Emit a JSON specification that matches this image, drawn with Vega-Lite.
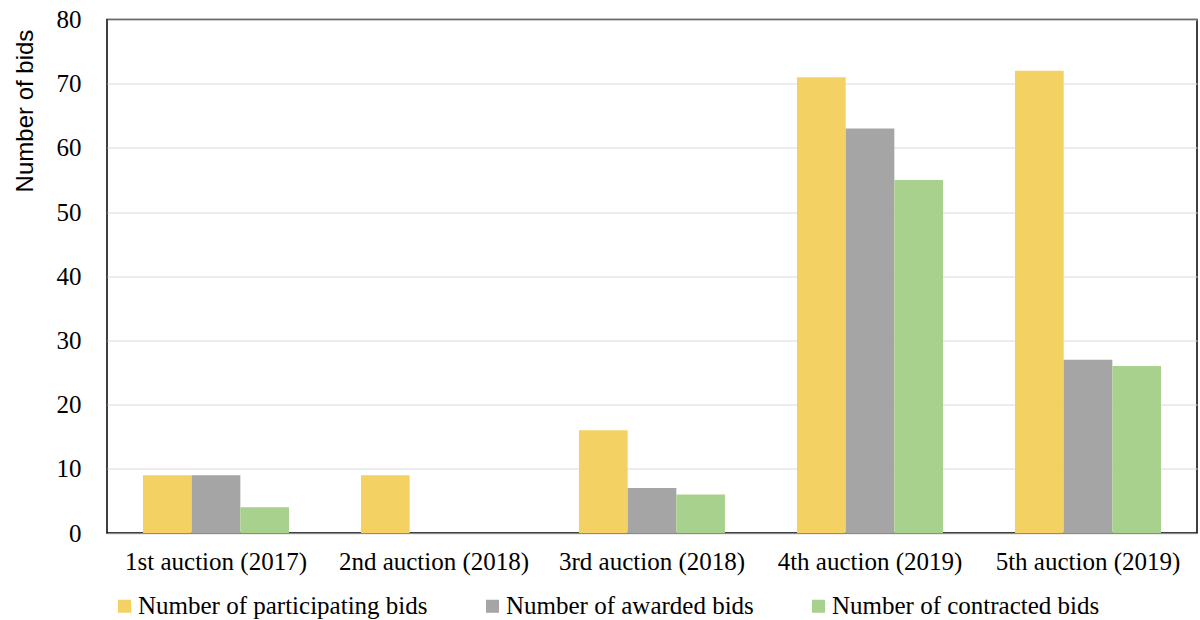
{
  "$schema": "https://vega.github.io/schema/vega-lite/v6.json",
  "width": 1090,
  "height": 513.5,
  "autosize": {"type": "none"},
  "padding": {"left": 107, "top": 19.5, "right": 3, "bottom": 87},
  "background": "white",
  "config": {
    "font": "Liberation Serif",
    "view": {"stroke": "#000000", "strokeWidth": 1.5},
    "axis": {"labelFont": "Liberation Serif", "labelColor": "#000000", "ticks": false},
    "legend": {"labelFont": "Liberation Serif"}
  },
  "data": {
    "values": [
      {"auction": "1st auction (2017)", "series": "Number of participating bids", "bids": 9},
      {"auction": "1st auction (2017)", "series": "Number of awarded bids", "bids": 9},
      {"auction": "1st auction (2017)", "series": "Number of contracted bids", "bids": 4},
      {"auction": "2nd auction (2018)", "series": "Number of participating bids", "bids": 9},
      {"auction": "2nd auction (2018)", "series": "Number of awarded bids", "bids": 0},
      {"auction": "2nd auction (2018)", "series": "Number of contracted bids", "bids": 0},
      {"auction": "3rd auction (2018)", "series": "Number of participating bids", "bids": 16},
      {"auction": "3rd auction (2018)", "series": "Number of awarded bids", "bids": 7},
      {"auction": "3rd auction (2018)", "series": "Number of contracted bids", "bids": 6},
      {"auction": "4th auction (2019)", "series": "Number of participating bids", "bids": 71},
      {"auction": "4th auction (2019)", "series": "Number of awarded bids", "bids": 63},
      {"auction": "4th auction (2019)", "series": "Number of contracted bids", "bids": 55},
      {"auction": "5th auction (2019)", "series": "Number of participating bids", "bids": 72},
      {"auction": "5th auction (2019)", "series": "Number of awarded bids", "bids": 27},
      {"auction": "5th auction (2019)", "series": "Number of contracted bids", "bids": 26}
    ]
  },
  "mark": {"type": "bar"},
  "encoding": {
    "x": {
      "field": "auction",
      "type": "nominal",
      "sort": null,
      "scale": {"paddingInner": 0.33, "paddingOuter": 0.165},
      "axis": {
        "title": null,
        "labelAngle": 0,
        "labelFont": "Liberation Serif",
        "labelFontSize": 25,
        "labelLimit": 400,
        "labelPadding": 16,
        "domain": false,
        "grid": false
      }
    },
    "xOffset": {
      "field": "series",
      "type": "nominal",
      "sort": ["Number of participating bids", "Number of awarded bids", "Number of contracted bids"],
      "scale": {"paddingInner": 0, "paddingOuter": 0}
    },
    "y": {
      "field": "bids",
      "type": "quantitative",
      "scale": {"domain": [0, 80], "nice": false},
      "axis": {
        "title": "Number of bids",
        "titleFont": "Liberation Sans",
        "titleFontWeight": "normal",
        "titleFontSize": 24,
        "titleColor": "#000000",
        "titleAngle": -90,
        "titleX": -82,
        "titleY": 91,
        "titleAlign": "center",
        "titleBaseline": "middle",
        "values": [0, 10, 20, 30, 40, 50, 60, 70, 80],
        "labelFont": "Liberation Serif",
        "labelFontSize": 25,
        "labelPadding": 26,
        "domain": false,
        "grid": true,
        "gridColor": "#D9D9D9",
        "gridWidth": 1
      }
    },
    "color": {
      "field": "series",
      "type": "nominal",
      "sort": ["Number of participating bids", "Number of awarded bids", "Number of contracted bids"],
      "scale": {
        "domain": ["Number of participating bids", "Number of awarded bids", "Number of contracted bids"],
        "range": ["#F3D263", "#A5A5A5", "#A9D18E"]
      },
      "legend": {
        "title": null,
        "orient": "none",
        "legendX": 5,
        "legendY": 574,
        "direction": "horizontal",
        "columns": 3,
        "columnPadding": 52,
        "padding": 0,
        "symbolType": "square",
        "symbolSize": 169,
        "symbolStrokeWidth": 0,
        "labelFont": "Liberation Serif",
        "labelFontSize": 25,
        "labelColor": "#000000",
        "labelOffset": 1,
        "labelLimit": 400
      }
    }
  }
}
